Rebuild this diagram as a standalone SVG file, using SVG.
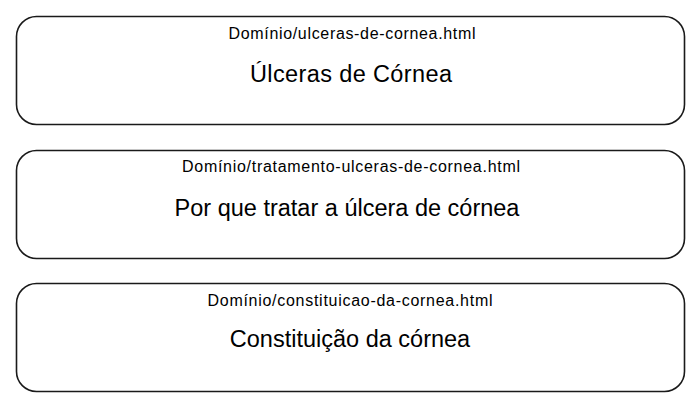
<svg xmlns="http://www.w3.org/2000/svg" width="700" height="406" viewBox="0 0 700 406">
<style>
.box{fill:#fff;stroke:#1a1a1a;stroke-width:1.6}
.url{font-family:"Liberation Sans",Arial,sans-serif;font-size:16px;fill:#000;text-anchor:middle}
.title{font-family:"Liberation Sans",Arial,sans-serif;font-size:23.5px;fill:#000;text-anchor:middle}
</style>
<rect width="700" height="406" fill="#fff"/>
<g id="node1">
<rect class="box" x="16.5" y="16.5" width="668" height="108" rx="20"/>
<text class="url" x="352" y="38.5" textLength="247" lengthAdjust="spacing">Domínio/ulceras-de-cornea.html</text>
<text class="title" x="351" y="81.5" textLength="202" lengthAdjust="spacing">Úlceras de Córnea</text>
</g>
<g id="node2">
<rect class="box" x="16.5" y="150.5" width="668" height="108" rx="20"/>
<text class="url" x="351" y="172" textLength="338" lengthAdjust="spacing">Domínio/tratamento-ulceras-de-cornea.html</text>
<text class="title" x="347" y="215.5">Por que tratar a úlcera de córnea</text>
</g>
<g id="node3">
<rect class="box" x="16.5" y="283.5" width="668" height="108" rx="20"/>
<text class="url" x="350" y="305.5" textLength="285" lengthAdjust="spacing">Domínio/constituicao-da-cornea.html</text>
<text class="title" x="350" y="347">Constituição da córnea</text>
</g>
<g id="connectors"></g>
</svg>
